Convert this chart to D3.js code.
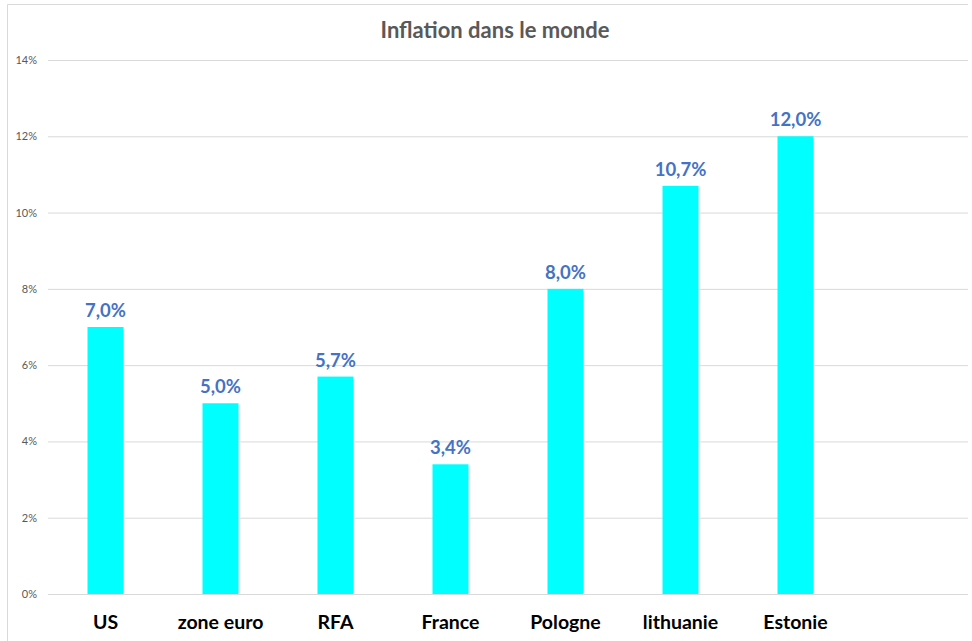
<!DOCTYPE html>
<html><head><meta charset="utf-8">
<script src="https://cdn.jsdelivr.net/npm/d3@7"></script>
<style>body{margin:0;background:#fff;}svg{display:block;font-family:Lato,"Open Sans",sans-serif;}</style>
</head><body><svg id="c" width="972" height="641"></svg>
<script>
const categories = ["US","zone euro","RFA","France","Pologne","lithuanie","Estonie",""];
const values = [7.0,5.0,5.7,3.4,8.0,10.7,12.0,null];
const yTicks = [0,2,4,6,8,10,12,14];
const title = "Inflation dans le monde";

const FONT = "Lato, 'Open Sans', sans-serif";
const svg = d3.select("#c");
const m = {left:48,right:4,top:60,bottom:47};
const W = 972, H = 641;
const x = d3.scaleBand().domain(categories).range([m.left, W - m.right]).paddingInner(0.687).paddingOuter(0.3435);
const y = d3.scaleLinear().domain([0,14]).range([H - m.bottom, m.top]);

// chart border
svg.append("path").attr("d",`M7.5,${H}V4.5H968`).attr("fill","none").attr("stroke","#d9d9d9").attr("stroke-width",1);

// gridlines
const yAxis = d3.axisLeft(y).tickValues(yTicks).tickSize(-(W - m.right - m.left)).tickPadding(11).tickFormat(d=>d+"%");
const gy = svg.append("g").attr("transform",`translate(${m.left},0)`).call(yAxis).attr("font-family",FONT);
gy.select(".domain").remove();
gy.selectAll(".tick line").attr("stroke","#d9d9d9").attr("stroke-width",1);
gy.selectAll(".tick text").attr("fill","#595959").attr("font-size","11px");

// bars
svg.append("g").selectAll("rect").data(categories.map((c,i)=>({c,v:values[i]})).filter(d=>d.v!=null))
  .join("rect").attr("x",d=>x(d.c)).attr("width",x.bandwidth())
  .attr("y",d=>y(d.v)).attr("height",d=>y(0)-y(d.v)).attr("fill","#00FFFF");

// value labels
svg.append("g").selectAll("text").data(categories.map((c,i)=>({c,v:values[i]})).filter(d=>d.v!=null))
  .join("text").attr("x",d=>x(d.c)+x.bandwidth()/2).attr("y",d=>y(d.v)-10)
  .attr("text-anchor","middle").attr("font-size","18.5px").attr("font-weight","bold").attr("fill","#4472C4")
  .text(d=>d3.format(".1f")(d.v).replace(".",",")+"%");

// x axis labels
const xAxis = d3.axisBottom(x).tickSize(0).tickPadding(0);
const gx = svg.append("g").attr("transform",`translate(0,${y(0)})`).call(xAxis).attr("font-family",FONT);
gx.select(".domain").remove();
gx.selectAll(".tick text").attr("dy",null).attr("y",35).attr("fill","#000").attr("font-size","19.5px").attr("font-weight","bold");

// title
svg.append("text").attr("x",495).attr("y",38).attr("text-anchor","middle").attr("font-size","22px").attr("font-weight","bold").attr("fill","#595959").text(title);
</script></body></html>
